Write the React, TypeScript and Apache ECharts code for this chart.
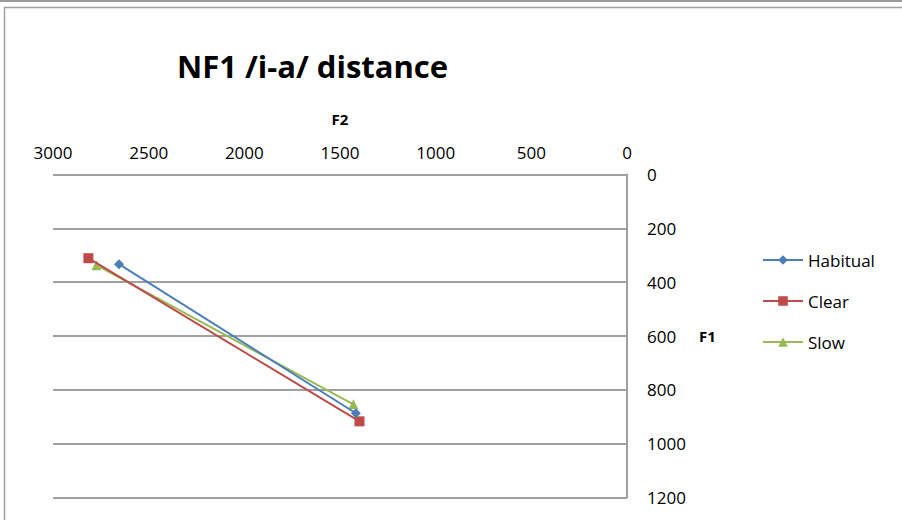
import React, { useEffect, useRef } from "react";
import * as echarts from "echarts";

// Formant measurements (Hz): first point is /i/, second is /a/
const seriesNames = ["Habitual", "Clear", "Slow"];
const habitualF2 = [2655, 1417];
const habitualF1 = [333, 887];
const clearF2 = [2815, 1398];
const clearF1 = [311, 917];
const slowF2 = [2773, 1430];
const slowF1 = [337, 854];

const seriesColors = ["#4A7EBB", "#BE4B48", "#98B954"];
const seriesSymbols = ["diamond", "rect", "triangle"];

const F2_MIN = 0;
const F2_MAX = 3000;
const F2_STEP = 500;
const F1_MIN = 0;
const F1_MAX = 1200;
const F1_STEP = 200;

const FONT = "'Open Sans', 'Noto Sans', sans-serif";

function pairs(xs: number[], ys: number[]) {
  return xs.map((x, i) => [x, ys[i]]);
}

const plain = (v: number) => String(v);

export default function App() {
  const ref = useRef<HTMLDivElement>(null);

  useEffect(() => {
    if (!ref.current) return;
    const chart = echarts.init(ref.current, null, { renderer: "svg" });
    const data = [
      pairs(habitualF2, habitualF1),
      pairs(clearF2, clearF1),
      pairs(slowF2, slowF1),
    ];

    chart.setOption({
      animation: false,
      backgroundColor: "#ffffff",
      title: {
        text: "NF1 /i-a/ distance",
        left: 172,
        top: 45,
        textStyle: {
          fontFamily: FONT,
          fontWeight: "bold",
          fontSize: 31,
          color: "#000",
        },
      },
      grid: { left: 53, right: 275, top: 174.5, bottom: 22.5 },
      xAxis: {
        type: "value",
        position: "top",
        inverse: true,
        min: F2_MIN,
        max: F2_MAX,
        interval: F2_STEP,
        name: "F2",
        nameLocation: "middle",
        nameGap: 48,
        nameTextStyle: {
          fontFamily: FONT,
          fontWeight: "bold",
          fontSize: 15,
          color: "#000",
        },
        axisLine: { show: false },
        axisTick: { show: false },
        splitLine: { show: false },
        axisLabel: {
          fontFamily: FONT,
          fontSize: 17,
          color: "#000",
          margin: 14,
          formatter: plain,
        },
      },
      yAxis: {
        type: "value",
        position: "right",
        inverse: true,
        min: F1_MIN,
        max: F1_MAX,
        interval: F1_STEP,
        name: "F1",
        nameLocation: "middle",
        nameGap: 72,
        nameRotate: 0,
        nameTextStyle: {
          fontFamily: FONT,
          fontWeight: "bold",
          fontSize: 15,
          color: "#000",
        },
        axisLine: { show: true, lineStyle: { color: "#a0a0a0", width: 2 } },
        axisTick: { show: false },
        splitLine: { show: true, lineStyle: { color: "#a0a0a0", width: 2 } },
        axisLabel: {
          fontFamily: FONT,
          fontSize: 17,
          color: "#000",
          margin: 20,
          formatter: plain,
        },
      },
      legend: {
        orient: "vertical",
        left: 757,
        top: 245,
        itemWidth: 40,
        itemHeight: 12,
        itemGap: 21,
        itemStyle: { borderWidth: 0 },
        textStyle: {
          fontFamily: FONT,
          fontSize: 17,
          color: "#000",
          lineHeight: 20,
        },
        data: seriesNames,
      },
      graphic: [
        {
          type: "line",
          shape: { x1: 0, y1: 1, x2: 902, y2: 1 },
          style: { stroke: "#9a9a9a", lineWidth: 2 },
        },
        {
          type: "line",
          shape: { x1: 4, y1: 7.5, x2: 902, y2: 7.5 },
          style: { stroke: "#a0a0a0", lineWidth: 1.5 },
        },
        {
          type: "line",
          shape: { x1: 4.5, y1: 7, x2: 4.5, y2: 520 },
          style: { stroke: "#a0a0a0", lineWidth: 1.5 },
        },
      ],
      series: seriesNames.map((name, i) => ({
        name,
        type: "line",
        data: data[i],
        symbol: seriesSymbols[i],
        symbolSize: 10,
        showSymbol: true,
        color: seriesColors[i],
        lineStyle: { color: seriesColors[i], width: 2 },
        itemStyle: { color: seriesColors[i] },
        z: 3 - i,
      })),
    });

    return () => chart.dispose();
  }, []);

  return (
    <div
      ref={ref}
      style={{ position: "fixed", left: 0, top: 0, width: 902, height: 520 }}
    />
  );
}
